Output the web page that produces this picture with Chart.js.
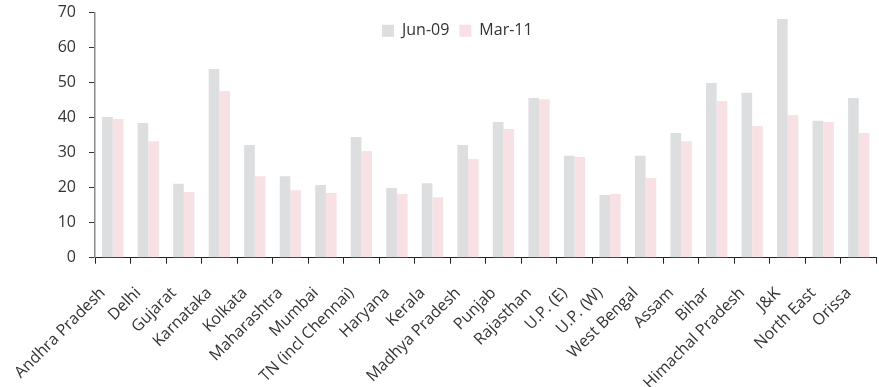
<!DOCTYPE html>
<html>
<head>
<meta charset="utf-8">
<script src="https://cdn.jsdelivr.net/npm/chart.js@4/dist/chart.umd.min.js"></script>
<style>
  html, body { margin: 0; padding: 0; background: #fff; }
  #wrap { width: 879px; height: 387px; }
</style>
</head>
<body>
<div id="wrap"><canvas id="c" width="879" height="387"></canvas></div>
<script>
// Regions on the x axis
const regions = [
  'Andhra Pradesh', 'Delhi', 'Gujarat', 'Karnataka', 'Kolkata', 'Maharashtra',
  'Mumbai', 'TN (incl Chennai)', 'Haryana', 'Kerala', 'Madhya Pradesh', 'Punjab',
  'Rajasthan', 'U.P. (E)', 'U.P. (W)', 'West Bengal', 'Assam', 'Bihar',
  'Himachal Pradesh', 'J&K', 'North East', 'Orissa'
];

// Values as of June 2009
const jun09 = [
  40.2, 38.5, 21.1, 53.9, 32.2, 23.3,
  20.8, 34.5, 19.9, 21.3, 32.2, 38.8,
  45.6, 29.1, 17.9, 29.1, 35.6, 49.9,
  47.1, 68.2, 39.1, 45.6
];

// Values as of March 2011
const mar11 = [
  39.6, 33.3, 18.8, 47.6, 23.3, 19.3,
  18.5, 30.5, 18.2, 17.3, 28.2, 36.8,
  45.3, 28.8, 18.2, 22.8, 33.3, 44.8,
  37.6, 40.8, 38.8, 35.6
];

const seriesNames = ['Jun-09', 'Mar-11'];
const yTicks = [0, 10, 20, 30, 40, 50, 60, 70];

const FONT = { family: "'Open Sans', 'Noto Sans', sans-serif", size: 16 };
const TEXT = '#333333';

// Legend sits inside the plot area as a single row, left-aligned from an inset
const LEGEND_INSET = 277;
const legendRow = {
  id: 'legendRow',
  beforeLayout(chart) {
    if (chart.legend) chart.legend.isHorizontal = () => true;
  },
  afterLayout(chart) {
    const lg = chart.legend;
    if (!lg) return;
    const w = lg.width;
    lg.left = chart.chartArea.left + LEGEND_INSET;
    lg.right = lg.left + w;
    lg.top = chart.chartArea.top;
  }
};

new Chart(document.getElementById('c'), {
  type: 'bar',
  data: {
    labels: regions,
    datasets: [
      { label: seriesNames[0], data: jun09, backgroundColor: '#dddee0',
        categoryPercentage: 0.6, barPercentage: 1.0 },
      { label: seriesNames[1], data: mar11, backgroundColor: '#f8e1e4',
        categoryPercentage: 0.6, barPercentage: 1.0 }
    ]
  },
  options: {
    responsive: false,
    animation: false,
    devicePixelRatio: 1,
    layout: { padding: { left: 0, right: 2.5, top: 12.7, bottom: 0 } },
    plugins: {
      legend: {
        position: 'chartArea',
        align: 'start',
        labels: {
          boxWidth: 12, boxHeight: 12, padding: 10,
          color: TEXT, font: FONT
        }
      },
      tooltip: { enabled: false }
    },
    scales: {
      x: {
        offset: true,
        grid: {
          offset: true, drawOnChartArea: false, drawTicks: true,
          tickLength: 6, color: '#222', lineWidth: 1
        },
        border: { display: true, color: '#222', width: 1 },
        ticks: {
          color: TEXT, font: FONT, autoSkip: false,
          minRotation: 45, maxRotation: 45, padding: 20, labelOffset: -10
        },
        afterFit(s) {
          s.height = 129.3;
          s.paddingLeft = 0;
          s.paddingRight = 0;
        }
      },
      y: {
        min: 0, max: 70,
        afterBuildTicks(s) { s.ticks = yTicks.map(v => ({ value: v })); },
        grid: {
          drawOnChartArea: false, drawTicks: true,
          tickLength: 6, color: '#333', lineWidth: 1
        },
        border: { display: true, color: '#8a8a8a', width: 1.5 },
        ticks: { color: TEXT, font: FONT, padding: 13 },
        afterFit(s) {
          s.width = 95;
          s.paddingTop = 0;
          s.paddingBottom = 0;
        }
      }
    }
  },
  plugins: [legendRow]
});
</script>
</body>
</html>
